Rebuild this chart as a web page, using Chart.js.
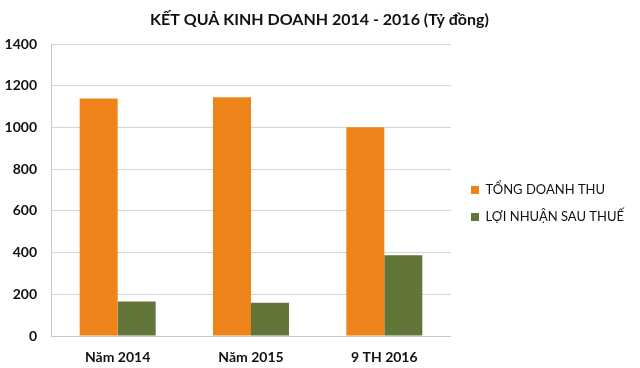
<!DOCTYPE html>
<html>
<head>
<meta charset="utf-8">
<script src="https://cdn.jsdelivr.net/npm/chart.js@4/dist/chart.umd.min.js"></script>
<style>
  html, body { margin: 0; padding: 0; background: #fff; }
  #wrap { width: 640px; height: 368px; }
</style>
</head>
<body>
<div id="wrap"><canvas id="chart"></canvas></div>
<script>
// Data
const categories = ['Năm 2014', 'Năm 2015', '9 TH 2016'];
const doanhThu = [1140, 1145, 1002];
const loiNhuan = [165, 160, 388];
const seriesNames = ['TỔNG DOANH THU', 'LỢI NHUẬN SAU THUẾ'];
const seriesColors = ['#EE831A', '#62763A'];

const font = 'Lato, "Open Sans", sans-serif';

new Chart(document.getElementById('chart'), {
  type: 'bar',
  data: {
    labels: categories,
    datasets: [
      { label: seriesNames[0], data: doanhThu, backgroundColor: seriesColors[0] },
      { label: seriesNames[1], data: loiNhuan, backgroundColor: seriesColors[1] }
    ]
  },
  options: {
    responsive: true,
    maintainAspectRatio: false,
    animation: false,
    layout: { padding: { top: 0, right: 6, bottom: 2, left: 5 } },
    datasets: { bar: { categoryPercentage: 0.57, barPercentage: 1 } },
    plugins: {
      title: {
        display: true,
        text: 'KẾT QUẢ KINH DOANH 2014 - 2016 (Tỷ đồng)',
        color: '#111',
        font: { family: font, size: 16, weight: 'bold' },
        padding: { top: 10, bottom: 15 }
      },
      legend: {
        position: 'right',
        maxWidth: 240,
        // empty title only pushes the items a little lower
        title: { display: true, text: '', font: { size: 10 }, padding: { top: 29, bottom: 0 } },
        labels: {
          boxWidth: 8, boxHeight: 8, padding: 14,
          color: '#111',
          font: { family: font, size: 13 }
        }
      },
      tooltip: { enabled: false }
    },
    scales: {
      x: {
        afterFit: s => { s.height = 30; },
        grid: { display: false, drawTicks: false },
        border: { color: '#c8c8c8' },
        ticks: { color: '#111', padding: 13, font: { family: font, size: 14, weight: 'bold' } }
      },
      y: {
        min: 0, max: 1400,
        afterFit: s => { s.width = 46; },
        ticks: { stepSize: 200, color: '#111', padding: 14, callback: v => String(v),
                 font: { family: font, size: 14, weight: 'bold' } },
        grid: { color: '#d4d4d4', drawTicks: false },
        border: { color: '#c8c8c8' }
      },
      // empty spacer between the plot and the legend
      gap: {
        position: 'right', min: 0, max: 1,
        afterFit: s => { s.width = 6; },
        grid: { display: false, drawTicks: false },
        border: { display: false },
        ticks: { display: false }
      }
    }
  }
});
</script>
</body>
</html>
